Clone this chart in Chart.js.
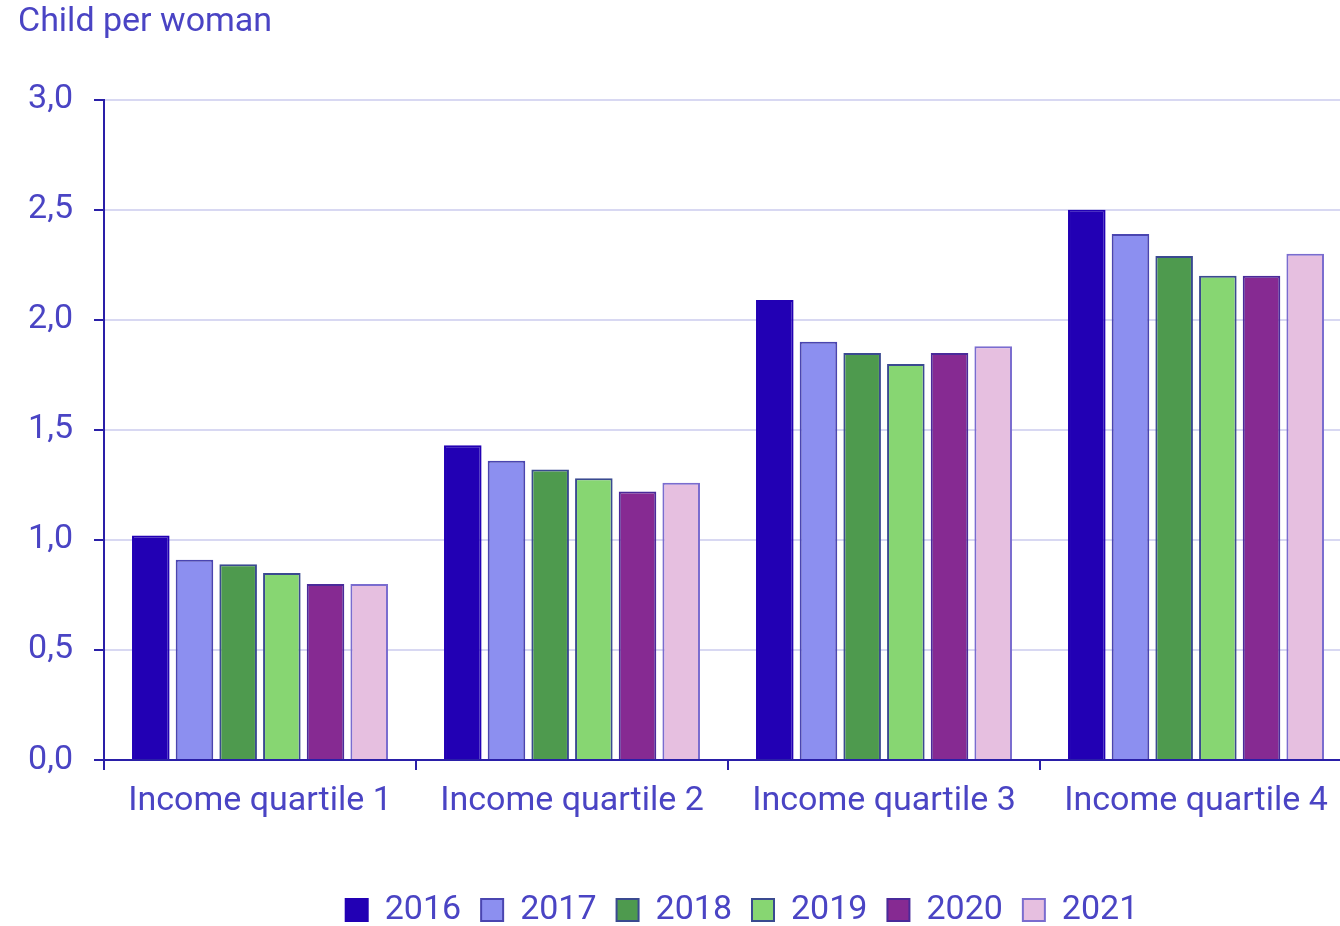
<!DOCTYPE html>
<html>
<head>
<meta charset="utf-8">
<script src="https://cdn.jsdelivr.net/npm/chart.js@4/dist/chart.umd.min.js"></script>
<style>
    html, body { margin: 0; padding: 0; background: #fff; overflow: hidden; }
    #wrap { width: 1352px; height: 926px; }
</style>
</head>
<body>
<div id="wrap"><canvas id="chart"></canvas></div>
<script>
const categories = ['Income quartile 1', 'Income quartile 2', 'Income quartile 3', 'Income quartile 4'];
const years = ['2016', '2017', '2018', '2019', '2020', '2021'];

const values2016 = [1.02, 1.43, 2.09, 2.50];
const values2017 = [0.91, 1.36, 1.90, 2.39];
const values2018 = [0.89, 1.32, 1.85, 2.29];
const values2019 = [0.85, 1.28, 1.80, 2.20];
const values2020 = [0.80, 1.22, 1.85, 2.20];
const values2021 = [0.80, 1.26, 1.88, 2.30];

const fills = ['#2200b4', '#8c8ff0', '#4e9a4e', '#87d672', '#862a92', '#e6bfe0'];
const borders = ['#2200b4', '#4a45b0', '#3a4a90', '#3a4a90', '#4a2a9a', '#7a6ccf'];

const textColor = '#4a44c4';
const axisColor = '#2a1fa8';

const seriesValues = [values2016, values2017, values2018, values2019, values2020, values2021];

// legend in the original sits a bit right of the plot centre
const legendShift = {
    id: 'legendShift',
    afterLayout(chart){
        chart.legend.left += 14;
        chart.legend.right += 14;
    }
};

const chart = new Chart(document.getElementById('chart'), {
    type: 'bar',
    data: {
        labels: categories,
        datasets: years.map((year, i) => ({
            label: year,
            data: seriesValues[i],
            backgroundColor: fills[i],
            borderColor: borders[i],
            borderWidth: 2,
            categoryPercentage: 0.84,
            barPercentage: 0.86
        }))
    },
    options: {
        responsive: true,
        maintainAspectRatio: false,
        animation: false,
        layout: {
            padding: { left: 18, right: 0, top: 0, bottom: -11 }
        },
        plugins: {
            title: {
                display: true,
                text: 'Child per woman',
                align: 'start',
                color: textColor,
                font: { family: 'Roboto', size: 34, weight: 'normal' },
                padding: { top: 2, bottom: 57 }
            },
            legend: {
                position: 'bottom',
                fullSize: false,
                labels: {
                    color: textColor,
                    font: { family: 'Roboto', size: 34 },
                    boxWidth: 22,
                    boxHeight: 22,
                    padding: 20
                }
            },
            tooltip: { enabled: false }
        },
        scales: {
            x: {
                afterFit: scale => { scale.height = 113; },
                grid: {
                    display: true,
                    drawOnChartArea: false,
                    color: axisColor,
                    tickLength: 10,
                    lineWidth: 2
                },
                border: { color: axisColor, width: 2 },
                ticks: {
                    color: textColor,
                    font: { family: 'Roboto', size: 34 },
                    padding: 11
                }
            },
            y: {
                min: 0,
                max: 3,
                afterFit: scale => { scale.width = 86; },
                grid: {
                    color: '#d8d8f2',
                    lineWidth: 2,
                    tickColor: axisColor,
                    tickLength: 10
                },
                border: { color: axisColor, width: 2 },
                ticks: {
                    stepSize: 0.5,
                    color: textColor,
                    font: { family: 'Roboto', size: 34 },
                    padding: 21,
                    callback: v => v.toFixed(1).replace('.', ',')
                }
            }
        }
    },
    plugins: [legendShift]
});
</script>
</body>
</html>
